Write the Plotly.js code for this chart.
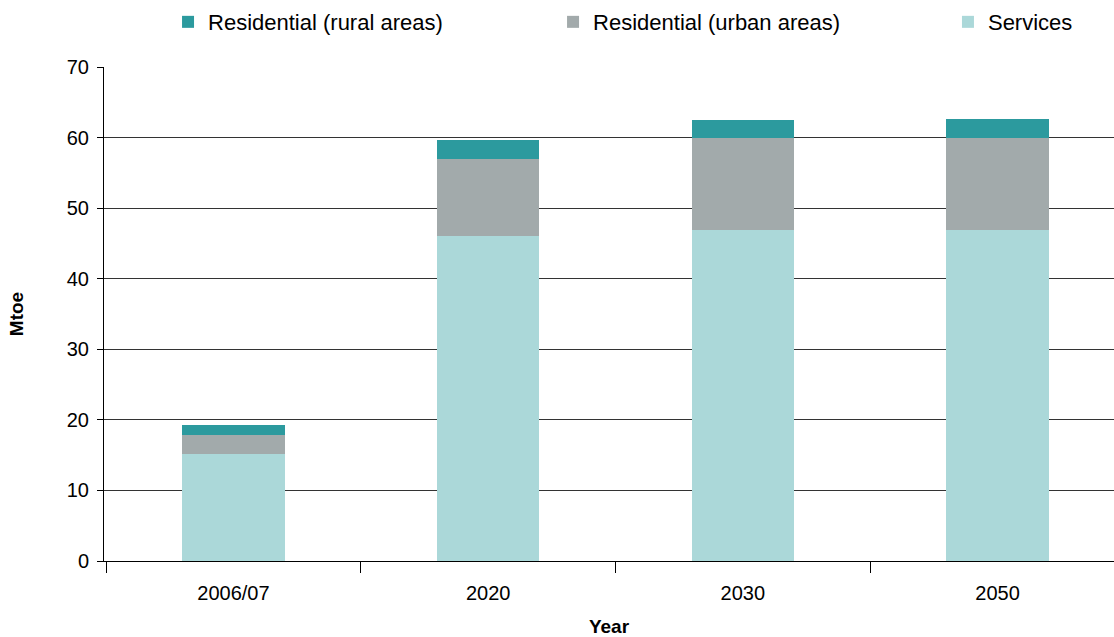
<!DOCTYPE html>
<html>
<head>
<meta charset="utf-8">
<script src="https://cdn.plot.ly/plotly-3.0.1.min.js"></script>
<style>html,body{margin:0;padding:0;background:#fff;}#chart{width:1114px;height:637px;}</style>
</head>
<body>
<div id="chart"></div>
<script>
const categories = ['2006/07', '2020', '2030', '2050'];
const services = [15.1, 46.0, 46.85, 46.85];
const residentialUrban = [2.8, 10.9, 13.15, 13.15];
const residentialRural = [1.4, 2.8, 2.55, 2.7];
const yTickValues = [0, 10, 20, 30, 40, 50, 60, 70];

const FONT = 'Liberation Sans, Arial, sans-serif';

const traces = [
  {type: 'bar', name: 'Services', x: categories, y: services,
   marker: {color: '#ABD8D9'}, legend: 'legend3', hoverinfo: 'x+y+name'},
  {type: 'bar', name: 'Residential (urban areas)', x: categories, y: residentialUrban,
   marker: {color: '#A2AAAB'}, legend: 'legend2', hoverinfo: 'x+y+name'},
  {type: 'bar', name: 'Residential (rural areas)', x: categories, y: residentialRural,
   marker: {color: '#2C9A9E'}, legend: 'legend', hoverinfo: 'x+y+name'}
];

const legendBase = {orientation: 'h', yanchor: 'middle', xanchor: 'left', y: 1.091,
  font: {family: FONT, size: 22, color: '#000'}, bgcolor: 'rgba(0,0,0,0)', borderwidth: 0};

const layout = {
  width: 1114, height: 637,
  margin: {l: 104, r: 0, t: 67, b: 76},
  paper_bgcolor: '#fff', plot_bgcolor: '#fff',
  barmode: 'stack', bargap: 0.597,
  font: {family: FONT, color: '#000'},
  showlegend: true,
  legend: Object.assign({}, legendBase, {x: 0.0634}),
  legend2: Object.assign({}, legendBase, {x: 0.4446}),
  legend3: Object.assign({}, legendBase, {x: 0.8356}),
  xaxis: {
    type: 'category', range: [-0.508, 3.457],
    tickson: 'boundaries', ticks: 'outside', ticklen: 11, tickcolor: '#000', tickwidth: 1,
    showline: true, linecolor: '#000', linewidth: 1,
    showgrid: false, zeroline: false,
    ticklabelstandoff: 14,
    tickfont: {family: FONT, size: 20, color: '#000'},
    title: {text: '<b>Year</b>', font: {family: FONT, size: 19, color: '#000'}, standoff: 18},
    automargin: false
  },
  yaxis: {
    range: [0, 70], tickvals: yTickValues, ticktext: yTickValues.map(String),
    ticks: 'outside', ticklen: 6, tickcolor: '#000', tickwidth: 1,
    showline: true, linecolor: '#000', linewidth: 1,
    showgrid: true, gridcolor: '#333', gridwidth: 1,
    zeroline: true, zerolinecolor: '#000', zerolinewidth: 1,
    ticklabelstandoff: 4,
    tickfont: {family: FONT, size: 20, color: '#000'},
    title: {text: '<b>Mtoe</b>', font: {family: FONT, size: 19, color: '#000'}, standoff: 38},
    automargin: false
  }
};

Plotly.newPlot('chart', traces, layout, {displayModeBar: false, staticPlot: true});
</script>
</body>
</html>
